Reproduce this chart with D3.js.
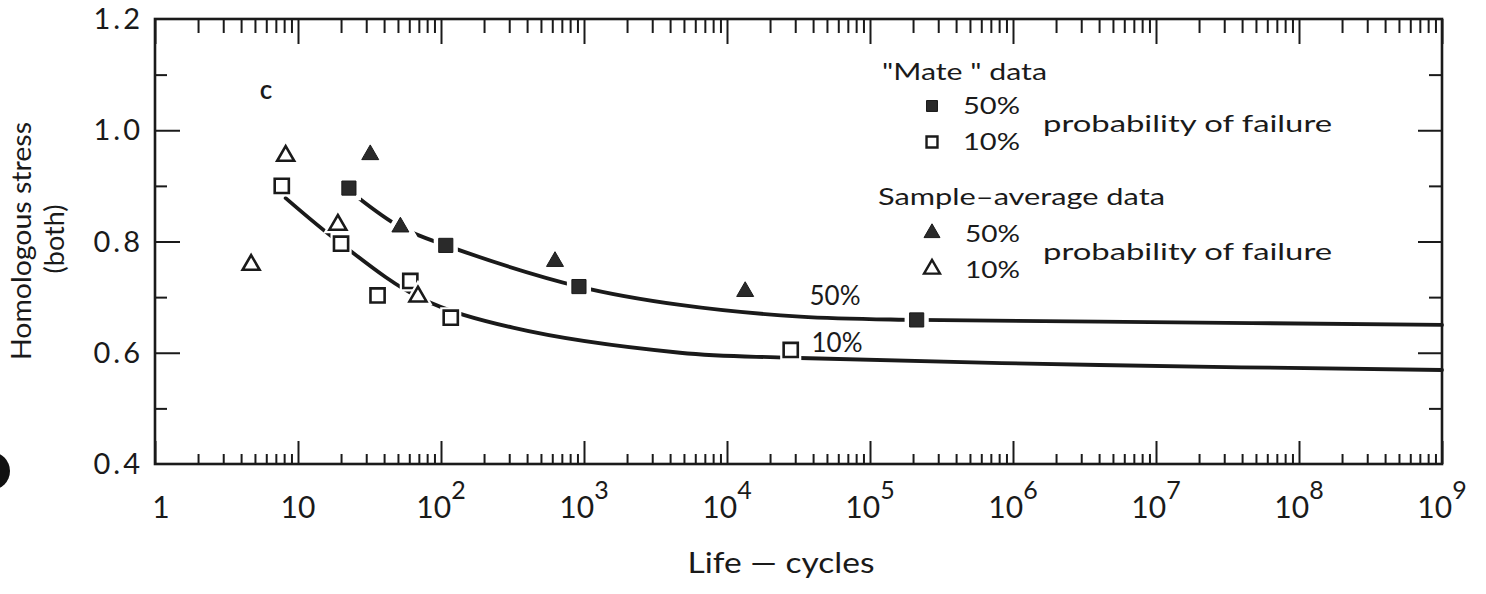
<!DOCTYPE html>
<html><head><meta charset="utf-8">
<script src="https://cdn.jsdelivr.net/npm/d3@7"></script>
<style>
body{margin:0;background:#fff}
svg{display:block}
text{font-family:Lato,'Noto Sans',sans-serif;fill:#1a1a1a}
</style>
</head><body>
<svg id="chart" width="1486" height="594"></svg>
<script>
// ---- data ----
const mate50N = [22.7, 108, 922, 2.12e5];
const mate50S = [0.896, 0.793, 0.719, 0.659];
const mate10N = [7.7, 20, 61, 36, 117, 27900];
const mate10S = [0.900, 0.796, 0.729, 0.703, 0.663, 0.605];
const samp50N = [32, 52, 627, 13400];
const samp50S = [0.956, 0.826, 0.764, 0.710];
const samp10N = [8.2, 19, 4.7, 69];
const samp10S = [0.954, 0.830, 0.758, 0.701];
// fitted curves
const curve50N = [26, 52, 108, 922, 4700, 32400, 2.12e5, 4e6, 1e9];
const curve50S = [0.880, 0.826, 0.793, 0.719, 0.686, 0.665, 0.659, 0.656, 0.650];
const curve10N = [8.2, 20, 71, 318, 4690, 27500, 4e6, 1e9];
const curve10S = [0.878, 0.796, 0.699, 0.645, 0.600, 0.591, 0.578, 0.569];
// axes
const xDecades = [0,1,2,3,4,5,6,7,8,9];
const yMajor = [0.6, 0.8, 1.0];
const yMinor = [0.5, 0.7, 0.9, 1.1];
const yLabels = ["0.4","0.6","0.8","1.0","1.2"];
const yLabelVals = [0.4,0.6,0.8,1.0,1.2];

const svg = d3.select("#chart");
const x = d3.scaleLog().domain([1, 1e9]).range([155, 1442]);
const y = d3.scaleLinear().domain([0.4, 1.2]).range([464, 19]);
const ink = "#1a1a1a";

const majorX = xDecades.map(e => Math.pow(10, e));
const minorX = [];
xDecades.slice(0, -1).forEach(e => { for (let k = 2; k <= 9; k++) minorX.push(k * Math.pow(10, e)); });

function styleAxis(g, w) {
  g.select(".domain").remove();
  g.selectAll("line").attr("stroke", ink).attr("stroke-width", w);
  g.selectAll("text").remove();
}
// bottom ticks (inward)
svg.append("g").attr("transform", "translate(0,464)")
  .call(d3.axisBottom(x).tickValues(majorX).tickSize(-23)).call(g => styleAxis(g, 2));
svg.append("g").attr("transform", "translate(0,464)")
  .call(d3.axisBottom(x).tickValues(minorX).tickSize(-10)).call(g => styleAxis(g, 2));
// top ticks
svg.append("g").attr("transform", "translate(0,19)")
  .call(d3.axisTop(x).tickValues(majorX).tickSize(-25)).call(g => styleAxis(g, 2));
svg.append("g").attr("transform", "translate(0,19)")
  .call(d3.axisTop(x).tickValues(minorX).tickSize(-14)).call(g => styleAxis(g, 2));
// left ticks
svg.append("g").attr("transform", "translate(155,0)")
  .call(d3.axisLeft(y).tickValues(yMajor).tickSize(-25)).call(g => styleAxis(g, 2));
svg.append("g").attr("transform", "translate(155,0)")
  .call(d3.axisLeft(y).tickValues(yMinor).tickSize(-12)).call(g => styleAxis(g, 2));
// right ticks
svg.append("g").attr("transform", "translate(1442,0)")
  .call(d3.axisRight(y).tickValues(yMajor).tickSize(-24)).call(g => styleAxis(g, 2));
svg.append("g").attr("transform", "translate(1442,0)")
  .call(d3.axisRight(y).tickValues(yMinor).tickSize(-13)).call(g => styleAxis(g, 2));

// frame
svg.append("rect").attr("x", x(1)).attr("y", y(1.2))
  .attr("width", x(1e9) - x(1)).attr("height", y(0.4) - y(1.2))
  .attr("fill", "none").attr("stroke", ink).attr("stroke-width", 2.6);

// y tick labels
svg.selectAll(".ylab").data(yLabelVals).enter().append("text")
  .attr("x", 143).attr("y", d => y(d) + 10)
  .attr("text-anchor", "end").attr("font-size", 29).attr("letter-spacing", 3)
  .text((d, i) => yLabels[i]);

// x tick labels
xDecades.forEach(e => {
  const t = svg.append("text").attr("x", x(Math.pow(10, e)) + (e === 0 ? 6 : 0)).attr("y", 518)
    .attr("text-anchor", "middle").attr("font-size", 30);
  if (e === 0) t.text("1");
  else if (e === 1) t.text("10");
  else {
    t.append("tspan").text("10");
    t.append("tspan").attr("dy", -19).attr("font-size", 25).text(e);
  }
});

// axis titles
svg.append("text").attr("x", 781).attr("y", 573).attr("text-anchor", "middle")
  .attr("font-size", 28).attr("textLength", 187).attr("lengthAdjust", "spacingAndGlyphs")
  .text("Life \u2014 cycles");
svg.append("text").attr("transform", "translate(31,241) rotate(-90)").attr("text-anchor", "middle")
  .attr("font-size", 27).attr("textLength", 238).attr("lengthAdjust", "spacingAndGlyphs")
  .text("Homologous stress");
svg.append("text").attr("transform", "translate(64,239) rotate(-90)").attr("text-anchor", "middle")
  .attr("font-size", 27).text("(both)");

// curves
const line = d3.line().x(d => x(d[0])).y(d => y(d[1])).curve(d3.curveCatmullRom.alpha(0.5));
[[curve50N, curve50S], [curve10N, curve10S]].forEach(([N, S]) => {
  svg.append("path").datum(N.map((n, i) => [n, S[i]])).attr("d", line)
    .attr("fill", "none").attr("stroke", ink).attr("stroke-width", 3.8).attr("stroke-linecap", "round");
});

// markers
const sq = d3.symbol(d3.symbolSquare, 200);
const tri = d3.symbol(d3.symbolTriangle, 125);
function markers(N, S, sym, filled) {
  const pts = N.map((n, i) => [n, S[i]]);
  svg.append("g").selectAll("path").data(pts).enter().append("path")
    .attr("transform", d => `translate(${x(d[0])},${y(d[1])})`).attr("d", sym)
    .attr("fill", "#fff").attr("stroke", "#fff").attr("stroke-width", filled ? 10 : 7);
  svg.append("g").selectAll("path").data(pts).enter().append("path")
    .attr("transform", d => `translate(${x(d[0])},${y(d[1])})`).attr("d", sym)
    .attr("fill", filled ? "#2a2a2a" : "#fff").attr("stroke", ink).attr("stroke-width", filled ? 1 : 2.6)
    .attr("stroke-linejoin", "miter");
}
markers(mate50N, mate50S, sq, true);
markers(mate10N, mate10S, sq, false);
markers(samp50N, samp50S, tri, true);
markers(samp10N, samp10S, tri, false);

// curve labels
svg.append("text").attr("x", 835).attr("y", 305).attr("text-anchor", "middle").attr("font-size", 26).text("50%");
svg.append("text").attr("x", 837).attr("y", 352).attr("text-anchor", "middle").attr("font-size", 26).text("10%");
svg.append("text").attr("x", 266).attr("y", 99).attr("text-anchor", "middle").attr("font-size", 26)
  .attr("font-weight", 600).text("c");

// legend
const lsq = d3.symbol(d3.symbolSquare, 120);
const ltri = d3.symbol(d3.symbolTriangle, 110);
function lt(xp, yp, s, len) {
  const t = svg.append("text").attr("x", xp).attr("y", yp).attr("font-size", 24).text(s);
  if (len) t.attr("textLength", len).attr("lengthAdjust", "spacingAndGlyphs");
}
function lm(cx, cy, sym, filled) {
  svg.append("path").attr("transform", `translate(${cx},${cy})`).attr("d", sym)
    .attr("fill", filled ? "#2a2a2a" : "#fff").attr("stroke", ink).attr("stroke-width", filled ? 1 : 2.4);
}
lt(882, 80, "\"Mate \" data", 165);
lm(932, 106, lsq, true); lt(963, 114, "50%", 57);
lm(932, 142, lsq, false); lt(963, 150, "10%", 57);
lt(1043, 132, "probability of failure", 289);
lt(878, 205, "Sample\u2013average data", 287);
lm(932, 233, ltri, true); lt(965, 242, "50%", 55);
lm(932, 269, ltri, false); lt(965, 278, "10%", 55);
lt(1043, 260, "probability of failure", 289);

// scan artifact (punch hole) at left edge
svg.append("circle").attr("cx", -9).attr("cy", 471).attr("r", 19).attr("fill", "#111");
</script>
</body></html>
